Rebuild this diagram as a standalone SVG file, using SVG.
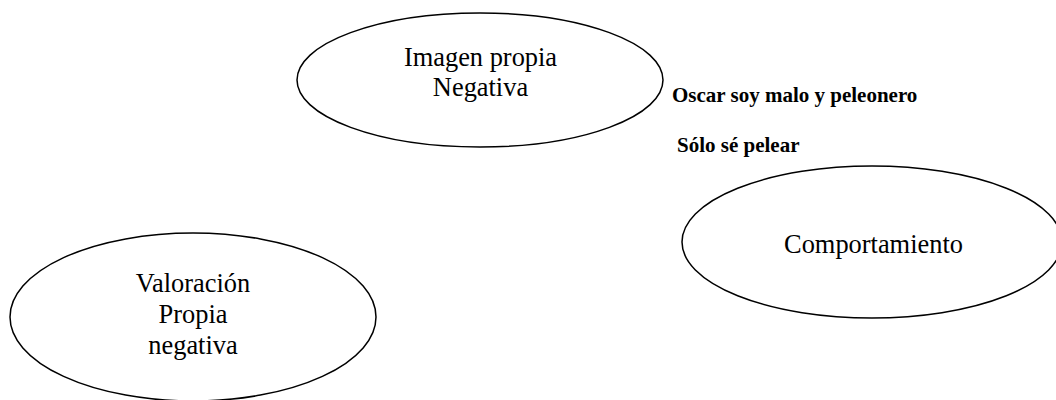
<svg xmlns="http://www.w3.org/2000/svg" width="1056" height="400" viewBox="0 0 1056 400">
  <style>
    .node ellipse { fill: #ffffff; stroke: #000000; stroke-width: 1.5; }
    .lbl { font-family: "Liberation Serif", "Times New Roman", serif; font-size: 26.4px; fill: #000000; text-anchor: middle; }
    .note { font-family: "Liberation Serif", "Times New Roman", serif; font-size: 21px; font-weight: bold; fill: #000000; }
  </style>
  <rect x="0" y="0" width="1056" height="400" fill="#ffffff"/>
  <g id="connectors"></g>
  <g id="imagen" class="node">
    <ellipse cx="480" cy="80" rx="183" ry="67"/>
    <text class="lbl" x="480.5" y="65.5">Imagen propia</text>
    <text class="lbl" x="480.5" y="95.5">Negativa</text>
  </g>
  <g id="comportamiento" class="node">
    <ellipse cx="872" cy="242" rx="190" ry="76"/>
    <text class="lbl" x="873.5" y="252.5">Comportamiento</text>
  </g>
  <g id="valoracion" class="node">
    <ellipse cx="193" cy="317" rx="183" ry="84"/>
    <text class="lbl" x="193" y="292">Valoración</text>
    <text class="lbl" x="193" y="323">Propia</text>
    <text class="lbl" x="193" y="354">negativa</text>
  </g>
  <g id="notes">
    <text class="note" x="672" y="102">Oscar soy malo y peleonero</text>
    <text class="note" x="677" y="152">Sólo sé pelear</text>
  </g>
</svg>
